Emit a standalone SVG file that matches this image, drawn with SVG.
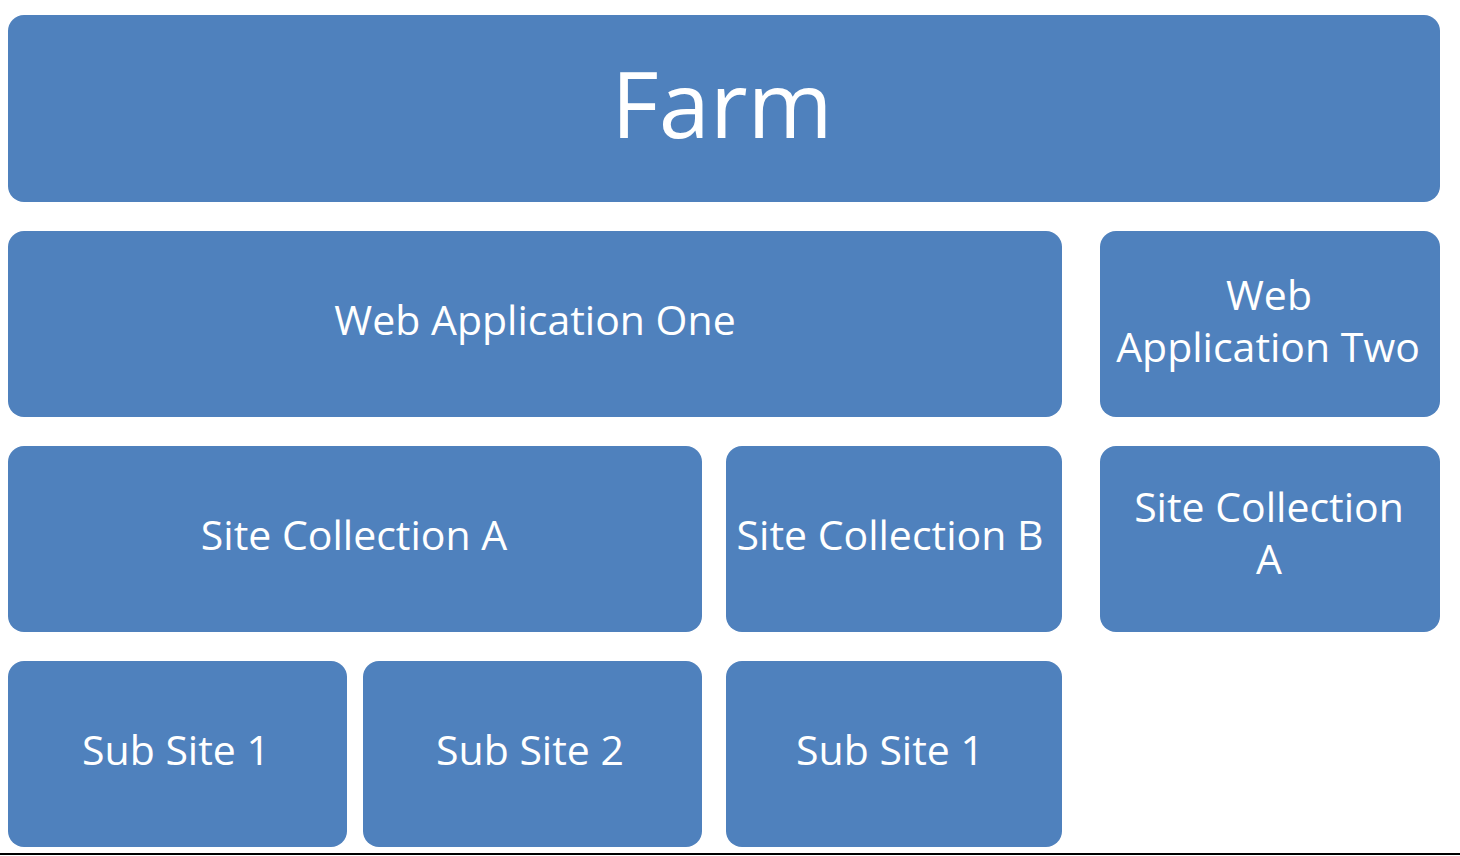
<svg xmlns="http://www.w3.org/2000/svg" width="1460" height="856" viewBox="0 0 1460 856">
<style>
.b{fill:#4F81BD;}
.t{fill:#fff;font-family:"Open Sans","Liberation Sans",sans-serif;font-size:41px;text-anchor:middle;}
.f{font-size:92px;}
</style>
<rect width="1460" height="856" fill="#fff"/>
<g id="farm"><rect class="b" x="8" y="15" width="1432" height="187" rx="16"/><text class="t f" x="722" y="138">Farm</text></g>
<g id="wa1"><rect class="b" x="8" y="231" width="1054" height="186" rx="16"/><text class="t" x="535" y="335">Web Application One</text></g>
<g id="wa2"><rect class="b" x="1100" y="231" width="340" height="186" rx="16"/><text class="t" x="1269" y="310">Web</text><text class="t" x="1268" y="362">Application Two</text></g>
<g id="scA"><rect class="b" x="8" y="446" width="694" height="186" rx="16"/><text class="t" x="354" y="550">Site Collection A</text></g>
<g id="scB"><rect class="b" x="726" y="446" width="336" height="186" rx="16"/><text class="t" x="890" y="550">Site Collection B</text></g>
<g id="scA2"><rect class="b" x="1100" y="446" width="340" height="186" rx="16"/><text class="t" x="1269" y="522">Site Collection</text><text class="t" x="1269" y="574">A</text></g>
<g id="ss1"><rect class="b" x="8" y="661" width="339" height="186" rx="16"/><text class="t" x="176" y="765">Sub Site 1</text></g>
<g id="ss2"><rect class="b" x="363" y="661" width="339" height="186" rx="16"/><text class="t" x="530" y="765">Sub Site 2</text></g>
<g id="ss1b"><rect class="b" x="726" y="661" width="336" height="186" rx="16"/><text class="t" x="890" y="765">Sub Site 1</text></g>
<g id="connectors"></g>
<line x1="0" y1="854" x2="1460" y2="854" stroke="#000" stroke-width="2"/>
</svg>
